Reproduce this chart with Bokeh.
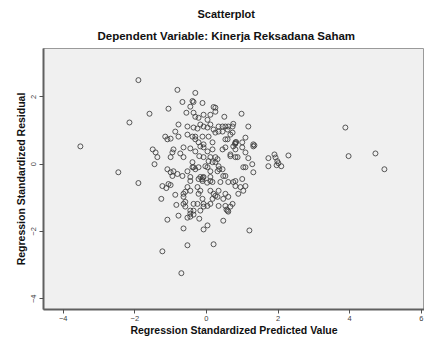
from bokeh.plotting import figure
from bokeh.models import Title, ColumnDataSource, FixedTicker, Range1d
from bokeh.embed import file_html
from bokeh.resources import INLINE

title_text = "Scatterplot"
subtitle_text = "Dependent Variable: Kinerja Reksadana Saham"
x_label = "Regression Standardized Predicted Value"
y_label = "Regression Standardized Residual"
x_ticks = [-4, -2, 0, 2, 4, 6]
y_ticks = [-4, -2, 0, 2]

# standardized predicted value
pred = [
    -3.52, -1.90, -1.59, -2.15, -0.81, -1.06, -2.46, -1.90, -1.45, -1.50,
    -1.42, -1.37, -0.67, -0.31, -0.39, -0.11, 0.20, 3.88, 3.97, 4.72,
    4.97, 0.98, 1.17, 0.50, 2.29, 1.73, 1.73, 1.90, 1.93, 1.98,
    2.01, 2.09, 1.96, 1.34, 1.31, 1.28, 1.17, 1.09, 0.81, 1.20,
    0.47, 0.61, 0.56, 0.20, -1.23, -0.70, -0.53, -1.09, -0.64, -0.08,
    0.03, -1.26, -0.84, -0.78, -0.87, -0.53, -0.45, -0.36, -0.20, -0.17,
    -0.59, -0.64, -0.25, -0.08, 0.11, 0.17, -1.23, -1.12, -1.00, -0.45,
    -0.36,
    -0.36, -0.45, -0.56, -0.36, -0.31, -0.22, -0.08, 0.11, 0.03, -0.17,
    -0.08, 0.11, -0.78, -0.53, -0.36, -0.25, -0.87, -0.53, -1.15, -1.09,
    -1.00, -0.78, -0.31, -0.11, 0.06, 0.03, 0.20,
    -1.06, -1.09, -1.00, -0.95, -0.92, -0.81, -0.95, -0.92, -1.00, -0.73,
    -0.64, -0.64, -0.45, -0.31, -0.20, -0.08, -0.17, -0.08, 0.03, 0.17,
    -0.39, -0.36, -0.53, -0.67, -0.45, -0.45, -0.22, -0.17, -0.11, -0.08,
    0.11, 0.03, 0.11, -0.53, -0.45, -0.59, -0.64, -0.25, -0.17, -0.22,
    -0.11, -0.08, 0.03, 0.11, 0.20, -0.64, -0.59, -0.45, -0.36, 0.17,
    0.11,
    0.25, 0.25, 0.34, 0.45, 0.53, 0.61, 0.73, 0.75, 0.34, 0.45,
    0.59, 0.25, 0.67, 0.73, 0.59, 0.81, 1.00, 1.31,
    0.45, 0.53, 0.75, 0.81, 1.00, 1.31, 0.67, 0.87, 1.09, 0.31,
    0.25, 0.36, 0.31, 0.53, 0.39, 0.75, 0.81, 1.00, 1.09, 1.03,
    0.89, 0.34, 0.53, 0.61, 0.47, 0.25, 0.31, 0.73, 0.67, 0.59,
    0.53, 0.34,
    -0.39, -0.31, -0.22, -0.08, 0.17, 0.53, 1.09, 0.67, 0.81, 0.25,
    0.06, -0.39, -0.31, -0.22, -0.03, 0.34, 0.45, 1.03, 0.11, 0.17,
    0.47, 0.61, 0.81, 0.95, 0.80, 0.83, -0.10, -0.12, 0.02,
]

# standardized residual
resid = [
    0.53, 2.50, 1.50, 1.24, 2.21, 1.65, -0.24, -0.56, 0.00, 0.44,
    0.35, 0.21, 1.85, 2.12, 1.88, 1.82, 1.70, 1.09, 0.24, 0.32,
    -0.15, 1.50, 1.12, 1.41, 0.26, 0.18, -0.06, 0.29, 0.20, 0.09,
    0.03, -0.06, -0.03, 0.56, -0.24, 0.00, 0.18, -0.09, 0.62, -1.97,
    -1.68, -1.41, -1.35, -2.38, -2.59, -3.24, -2.41, -1.65, -1.91, -1.94,
    -1.82, -1.03, -1.21, -1.53, -0.91, -1.59, -1.47, -1.38, -1.62, -1.38,
    -1.12, -0.88, -1.18, -1.26, -1.18, -1.03, -0.65, -0.71, -0.62, -1.56,
    -1.50,
    1.85, 1.71, 1.53, 1.53, 1.41, 1.38, 1.47, 1.47, 1.32, 1.18,
    1.12, 1.18, 1.18, 1.12, 1.09, 1.06, 0.97, 0.88, 0.82, 0.74,
    0.76, 0.82, 0.82, 0.82, 0.82, 1.09, 1.03,
    -0.59, -0.15, -0.24, -0.35, -0.21, -0.29, 0.35, 0.44, 0.21, 0.32,
    0.21, 0.50, 0.47, 0.38, 0.24, 0.21, 0.53, 0.50, 0.38, 0.44,
    0.06, -0.09, -0.21, -0.35, -0.38, -0.50, -0.44, -0.38, -0.50, -0.38,
    -0.50, -0.09, -0.21, -0.68, -0.79, -0.82, -0.97, -0.68, -0.79, -0.88,
    -1.03, -1.18, -1.24, -0.79, -0.88, -1.18, -1.26, -1.38, -1.18, 0.06,
    0.21,
    1.68, 1.56, 1.12, 1.12, 1.12, 1.12, 1.12, 1.20, 0.97, 0.97,
    1.03, 0.94, 0.88, 0.94, 0.74, 0.65, 0.65, 0.59,
    0.44, 0.50, 0.53, 0.44, 0.50, 0.53, 0.24, 0.21, 0.35, 0.15,
    0.06, -0.15, -0.21, -0.35, -0.53, -0.53, -0.65, -0.44, -0.65, -0.79,
    -0.88, -0.79, -0.88, -0.97, -1.03, -0.94, -0.97, -1.18, -1.26, -1.38,
    -1.24, -1.24,
    0.82, 0.74, 0.65, 0.59, 0.65, 0.74, 0.79, 0.29, 0.21, 0.21,
    0.09, -0.09, -0.15, -0.09, -0.06, -0.06, -0.15, -0.09, -0.38, -0.53,
    -0.35, -0.53, -0.50, -0.68, 0.60, 0.66, -0.40, -0.45, -0.55,
]

source = ColumnDataSource(data=dict(x=pred, y=resid))

FONT = "Liberation Sans"

p = figure(
    width=424, height=338,
    output_backend="svg", toolbar_location=None, title=None,
    x_range=Range1d(-4.55, 6.09), y_range=Range1d(-4.32, 3.44),
    min_border_left=43, min_border_right=0, min_border_top=48, min_border_bottom=26,
)
p.background_fill_color = "#F0F0F0"
p.border_fill_color = "white"
p.outline_line_color = "#9a9a9a"
p.outline_line_width = 1
p.grid.visible = False

p.scatter("x", "y", source=source, size=5, marker="circle",
          fill_color=None, line_color="#3c3c3c", line_width=1, line_alpha=0.85)

for ax in (p.xaxis[0], p.yaxis[0]):
    ax.axis_line_color = "#606060"
    ax.axis_line_width = 2
    ax.major_tick_line_color = "#505050"
    ax.major_tick_out = 4
    ax.major_tick_in = 0
    ax.minor_tick_line_color = None
    ax.major_label_text_font = FONT
    ax.major_label_text_font_size = "7.5px"
    ax.major_label_text_color = "#404040"
    ax.axis_label_text_font = FONT
    ax.axis_label_text_font_style = "bold"
    ax.axis_label_text_font_size = "10.5px"
    ax.axis_label_text_color = "#111111"

p.xaxis[0].ticker = FixedTicker(ticks=x_ticks)
p.yaxis[0].ticker = FixedTicker(ticks=y_ticks)
p.xaxis[0].major_label_standoff = 2
p.yaxis[0].major_label_standoff = 3
p.yaxis[0].major_label_orientation = "vertical"

p.xaxis[0].axis_label = x_label
p.xaxis[0].axis_label_standoff = 0
p.yaxis[0].axis_label = y_label
p.yaxis[0].axis_label_standoff = 2

p.add_layout(Title(text=subtitle_text, align="left", offset=54, standoff=13,
                   text_font=FONT, text_font_style="bold", text_font_size="11.5px",
                   text_color="#111111"), "above")
p.add_layout(Title(text=title_text, align="left", offset=154, standoff=3,
                   text_font=FONT, text_font_style="bold", text_font_size="11px",
                   text_color="#111111"), "above")

open("out.html", "w").write(file_html(p, INLINE))
